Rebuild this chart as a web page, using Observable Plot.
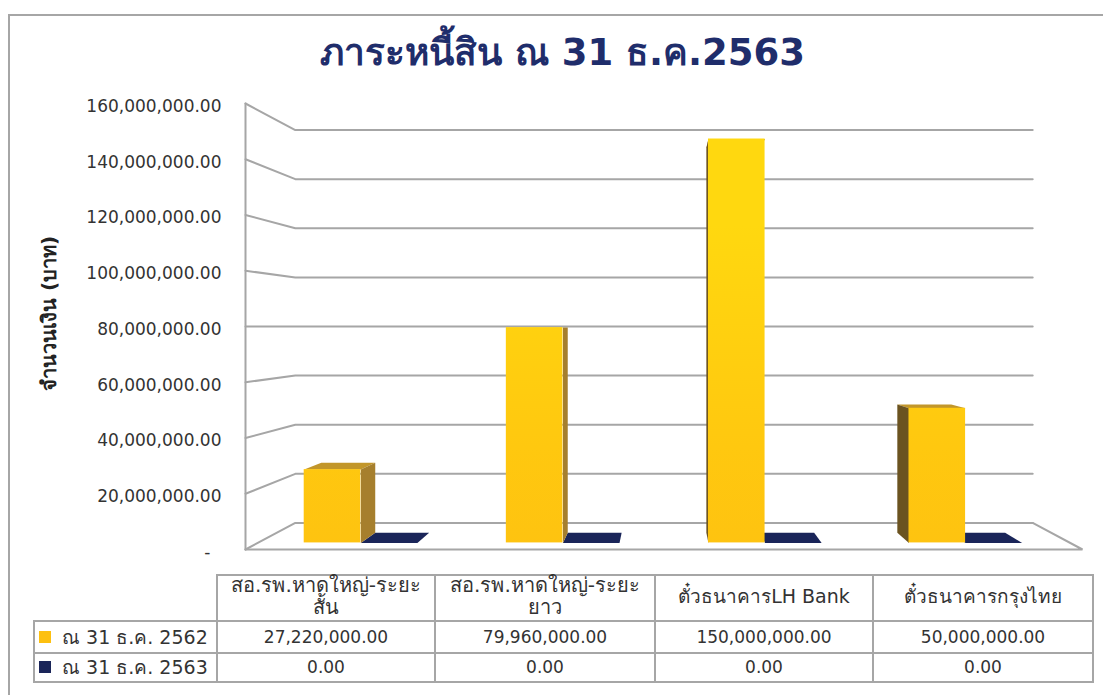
<!DOCTYPE html>
<html lang="th">
<head>
<meta charset="utf-8">
<script src="https://cdn.jsdelivr.net/npm/d3@7"></script>
<script src="https://cdn.jsdelivr.net/npm/@observablehq/plot@0.6"></script>
<style>
  html, body { margin: 0; padding: 0; background: #fff; }
  body { width: 1103px; height: 695px; overflow: hidden; position: relative; font-family: "DejaVu Sans", "Noto Sans", sans-serif; color: #333; }
  #frame { position: absolute; left: 8px; top: 14px; width: 1110px; height: 700px; border: 2px solid #a6a6a6; box-sizing: border-box; pointer-events: none; }
  #title { height: 85px; padding-top: 28px; line-height: 50px; box-sizing: border-box; text-align: center; font-size: 37px; font-weight: bold; color: #1f2d6b; padding-left: 22px; }
  #chart svg { display: block; }
  table { border-collapse: collapse; margin: 4px 0 0 33px; table-layout: fixed; width: 1059px; font-size: 17px; color: #333; }
  td, th { border: 2px solid #a6a6a6; text-align: center; font-weight: normal; padding: 0; line-height: 1.1; }
  th.blank { border-top: none; border-left: none; }
  tr.head th { height: 44px; font-size: 19px; }
  tr.head th:nth-child(2), tr.head th:nth-child(3) { font-size: 20px; }
  tr.head th span { position: relative; top: -2px; display: block; }
  tr.r1 td { height: 30px; }
  tr.r2 td { height: 27px; }
  td.lab { text-align: left; padding-left: 4px; white-space: nowrap; font-size: 19px; }
  .sw { display: inline-block; width: 12px; height: 12px; margin-right: 11px; vertical-align: 1px; }
</style>
</head>
<body>
<div id="frame"></div>
<div id="title"></div>
<div id="chart"></div>
<div id="tbl"></div>
<script>
const titleText = "ภาระหนี้สิน ณ 31 ธ.ค.2563";
const yTitle = "จำนวนเงิน (บาท)";
const categories = ["สอ.รพ.หาดใหญ่-ระยะสั้น", "สอ.รพ.หาดใหญ่-ระยะยาว", "ตั๋วธนาคารLH Bank", "ตั๋วธนาคารกรุงไทย"];
const categoryLines = [["สอ.รพ.หาดใหญ่-ระยะ", "สั้น"], ["สอ.รพ.หาดใหญ่-ระยะ", "ยาว"], ["ตั๋วธนาคารLH Bank"], ["ตั๋วธนาคารกรุงไทย"]];
const seriesNames = ["ณ 31 ธ.ค. 2562", "ณ 31 ธ.ค. 2563"];
const values2562 = [27220000, 79960000, 150000000, 50000000];
const values2563 = [0, 0, 0, 0];
const yTicks = [20e6, 40e6, 60e6, 80e6, 100e6, 120e6, 140e6, 160e6];
const colors = ["#fdc010", "#1a2559"];

// simple one-point perspective towards the middle of the box
const vx = 2, vy = 80e6, backDepth = 0.119, barFront = 0.034, barBack = 0.08;
const px = (x, k) => x + (vx - x) * k;
const py = (v, k) => v + (vy - v) * k;
const pt = (x, v, k) => ({x: px(x, k), y: py(v, k)});

const fmt = d3.format(",.2f");

// wall and floor lines
const wallLines = [];
[0, ...yTicks].forEach(v => wallLines.push({z: "t" + v, ...pt(0, v, 0)}, {z: "t" + v, ...pt(0, v, backDepth)}, {z: "t" + v, ...pt(4, v, backDepth)}));
wallLines.push({z: "axis", ...pt(0, 0, 0)}, {z: "axis", ...pt(0, 160e6, 0)});
wallLines.push({z: "floor", ...pt(0, 0, 0)}, {z: "floor", ...pt(4, 0, 0)}, {z: "floor", ...pt(4, 0, backDepth)});

const barW = 0.28;
const faces = {rightSide: [], leftSide: [], top: [], flat: []};
const fronts = [];
categories.forEach((c, i) => {
  const center = i + 0.5 - (i === 3 ? 0.008 : 0);
  const a = center - barW, b = center, v = values2562[i];
  const z = "b" + i;
  const quad = (...pts) => pts.map(p => ({...p, z}));
  if (center < vx) faces.rightSide.push(...quad(pt(b, 0, barFront), pt(b, 0, barBack), pt(b, v, barBack), pt(b, v, barFront)));
  else faces.leftSide.push(...quad(pt(a, 0, barFront), pt(a, 0, barBack), pt(a, v, barBack), pt(a, v, barFront)));
  faces.top.push(...quad(pt(a, v, barFront), pt(a, v, barBack), pt(b, v, barBack), pt(b, v, barFront)));
  fronts.push({x1: px(a, barFront), x2: px(b, barFront), y1: py(0, barFront), y2: py(v, barFront)});
  const c2 = center + barW, v2 = values2563[i];
  faces.flat.push(...quad(pt(b, v2, barFront), pt(b, v2, barBack), pt(c2, v2, barBack), pt(c2, v2, barFront)));
});

function gradient() {
  const g = d3.create("svg:linearGradient").attr("id", "gold").attr("gradientUnits", "userSpaceOnUse")
    .attr("x1", 0).attr("x2", 0).attr("y1", 139).attr("y2", 542);
  g.append("stop").attr("offset", "0%").attr("stop-color", "#ffd80f");
  g.append("stop").attr("offset", "55%").attr("stop-color", "#ffc80f");
  g.append("stop").attr("offset", "100%").attr("stop-color", "#fdbf11");
  const defs = d3.create("svg:defs");
  defs.append(() => g.node());
  return defs.node();
}

const face = (data, fill) => Plot.line(data, {x: "x", y: "y", z: "z", fill, stroke: "none", dy: 1});

const plot = Plot.plot({
  width: 1103,
  height: 485,
  marginLeft: 245,
  marginRight: 21,
  marginTop: 18,
  marginBottom: 21,
  style: {fontFamily: '"DejaVu Sans", "Noto Sans", sans-serif', background: "transparent", overflow: "visible"},
  x: {type: "linear", domain: [0, 4], axis: null},
  y: {type: "linear", domain: [0, 160e6], axis: null},
  marks: [
    gradient,
    Plot.line(wallLines, {x: "x", y: "y", z: "z", stroke: "#a6a6a6", strokeWidth: 2, strokeLinejoin: "miter"}),
    face(faces.flat, colors[1]),
    face(faces.top, "#c2962a"),
    face(faces.rightSide, "#a67f2d"),
    face(faces.leftSide, "#6b5320"),
    Plot.rect(fronts, {x1: "x1", x2: "x2", y1: "y1", y2: "y2", fill: "url(#gold)", inset: 0, dy: 1}),
    Plot.axisY(yTicks, {anchor: "left", tickSize: 0, tickPadding: 24, tickFormat: d => fmt(d), fontSize: 17, fill: "#333", dy: 3}),
    Plot.axisY([0], {anchor: "left", tickSize: 0, tickPadding: 35, tickFormat: () => "-", fontSize: 17, fill: "#333", dy: 3}),
    Plot.text([yTitle], {x: 0, y: () => 84.7e6, text: d => d, rotate: -90, dx: -196, fontSize: 20, fontWeight: "bold", fill: "#222"})
  ]
});
document.getElementById("chart").append(plot);
document.getElementById("title").textContent = titleText;

const t = d3.select("#tbl").append("table");
const cg = t.append("colgroup");
[183, 218, 220, 218, 220].forEach(w => cg.append("col").style("width", w + "px"));
const h = t.append("tr").attr("class", "head");
h.append("th").attr("class", "blank");
categoryLines.forEach(lines => h.append("th").append("span").html(lines.join("<br>")));
[values2562, values2563].forEach((vals, s) => {
  const r = t.append("tr").attr("class", "r" + (s + 1));
  const l = r.append("td").attr("class", "lab");
  l.append("span").attr("class", "sw").style("background", colors[s]);
  l.append("span").text(seriesNames[s]);
  vals.forEach(v => r.append("td").text(fmt(v)));
});
</script>
</body>
</html>
